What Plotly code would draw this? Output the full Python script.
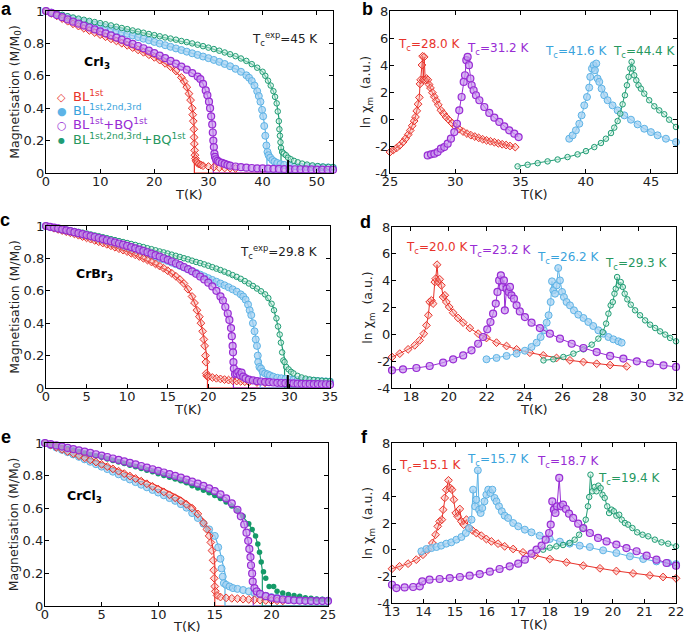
import plotly.graph_objects as go

W, H = 685, 633
FONT = "DejaVu Sans"
RED, BLUE, PURPLE, GREEN = "#e8332b", "#5db3e6", "#982cd4", "#1f9c74"
BLUE_TXT, GREEN_TXT = "#3aa3dc", "#27985f"
RED_FILL = "rgba(245,150,140,0.35)"
BLUE_FILL = "rgba(165,210,242,0.75)"
PURPLE_FILL = "rgba(200,150,238,0.7)"
GREEN_FILL = "rgba(200,238,222,0.5)"
GREEN_DOT = "#159a68"

# ---------------- panel a : CrI3 magnetisation ----------------
a_red_T = [0,1,2,3,4,5,6,7,8,9,10,11,12,13,14,15,16,17,18,19,20,21,22,23,24,25,25.5,26,26.4,26.7,27.0,27.1,27.2,27.3,27.35,27.4,27.45,27.5,27.6,27.7,27.9,28.2,28.6,29,30,31,32,33,34,35]
a_red_M = [1.000,0.985,0.970,0.953,0.937,0.921,0.907,0.893,0.880,0.867,0.854,0.841,0.828,0.815,0.801,0.788,0.774,0.760,0.745,0.730,0.714,0.697,0.677,0.656,0.630,0.590,0.565,0.530,0.490,0.450,0.400,0.360,0.320,0.270,0.220,0.180,0.140,0.110,0.090,0.075,0.065,0.055,0.050,0.045,0.040,0.036,0.033,0.031,0.030,0.028]
a_purple_T = [0,1,2,3,4,5,6,7,8,9,10,11,12,13,14,15,16,17,18,19,20,21,22,23,24,25,26,27,28,28.5,29,29.5,29.8,30.1,30.3,30.5,30.7,30.8,30.9,31.0,31.1,31.2,31.4,31.7,32,32.5,33,33.5,34,35,36,37,38,39,40,41,42,43,44,45,46,47,48,49,50,51,52,53]
a_purple_M = [1.0,0.988,0.975,0.962,0.948,0.934,0.922,0.910,0.898,0.886,0.874,0.862,0.849,0.836,0.823,0.810,0.797,0.784,0.770,0.755,0.740,0.725,0.709,0.692,0.675,0.657,0.638,0.617,0.595,0.580,0.550,0.510,0.480,0.440,0.400,0.350,0.300,0.250,0.200,0.160,0.120,0.100,0.085,0.075,0.068,0.062,0.056,0.050,0.045,0.040,0.036,0.033,0.031,0.029,0.028,0.027,0.026,0.025,0.024,0.024,0.023,0.023,0.022,0.022,0.021,0.021,0.020,0.020]
a_blue_T = [0,1,2,3,4,5,6,7,8,9,10,11,12,13,14,15,16,17,18,19,20,21,22,23,24,25,26,27,28,29,30,31,32,33,34,35,36,37,37.5,38,38.5,39,39.3,39.6,39.9,40.1,40.3,40.5,40.7,40.9,41.1,41.4,41.8,42.2,42.7,43.3,44,45,46,47,48,49,50,51,52,53]
a_blue_M = [1.0,0.99,0.98,0.97,0.96,0.95,0.942,0.934,0.926,0.917,0.908,0.899,0.889,0.879,0.869,0.859,0.849,0.839,0.829,0.819,0.809,0.799,0.789,0.779,0.769,0.759,0.749,0.739,0.729,0.719,0.709,0.698,0.686,0.673,0.659,0.643,0.625,0.603,0.588,0.568,0.54,0.505,0.475,0.44,0.39,0.35,0.29,0.23,0.17,0.13,0.11,0.095,0.08,0.07,0.062,0.055,0.05,0.045,0.042,0.04,0.038,0.037,0.036,0.035,0.034,0.033]
a_green_T = [0,1,2,3,4,5,6,7,8,9,10,11,12,13,14,15,16,17,18,19,20,21,22,23,24,25,26,27,28,29,30,31,32,33,34,35,36,37,38,39,40,40.5,41,41.5,42,42.3,42.6,42.8,43.0,43.1,43.2,43.3,43.4,43.6,43.9,44.3,44.7,45.2,45.8,46.5,47.3,48.2,49.2,50.2,51.2,52.2,53]
a_green_M = [1.0,0.992,0.984,0.976,0.968,0.96,0.953,0.946,0.939,0.932,0.925,0.918,0.911,0.903,0.895,0.888,0.88,0.873,0.866,0.858,0.851,0.844,0.837,0.83,0.823,0.815,0.808,0.8,0.792,0.783,0.774,0.765,0.755,0.744,0.733,0.721,0.707,0.692,0.672,0.65,0.625,0.600,0.570,0.540,0.505,0.47,0.43,0.38,0.32,0.27,0.23,0.19,0.155,0.13,0.12,0.11,0.095,0.085,0.075,0.066,0.058,0.052,0.047,0.043,0.04,0.038,0.036]
a_red_line_T = [0,5,10,15,20,23,25,26,26.6,27.0,27.3,27.4,27.4,53]
a_red_line_M = [1,0.921,0.854,0.788,0.714,0.656,0.59,0.53,0.46,0.40,0.32,0.25,0,0]
a_purple_line_T = [0,5,10,15,20,25,28,29,29.8,30.4,30.8,30.9,30.9,53]
a_purple_line_M = [1,0.934,0.874,0.81,0.74,0.657,0.595,0.55,0.48,0.39,0.28,0.22,0,0]
a_blue_line_T = [0,5,10,15,20,25,30,35,37,38.5,39.6,40.3,40.8,40.8,53]
a_blue_line_M = [1,0.95,0.908,0.859,0.809,0.759,0.709,0.643,0.603,0.54,0.44,0.31,0.18,0,0]
a_green_line_T = [0,5,10,15,20,25,30,35,38,40,41,42,42.6,43.0,43.4,43.4,53]
a_green_line_M = [1,0.96,0.925,0.888,0.851,0.815,0.774,0.721,0.672,0.625,0.57,0.505,0.43,0.34,0.2,0,0]
a_Tc_exp = 44.7

# ---------------- panel b : CrI3 ln chi ----------------
b_red_T = [25.0,25.25,25.5,25.75,26.0,26.2,26.4,26.55,26.7,26.85,26.95,27.05,27.15,27.25,27.3,27.35,27.45,27.5,27.55,27.62,27.7,27.8,27.9,28.0,28.1,28.25,28.4,28.55,28.7,28.9,29.1,29.3,29.5,29.75,30.0,30.3,30.6,30.9,31.2,31.5,31.8,32.1,32.4,32.7,33.0,33.3,33.6,33.9,34.2,34.6]
b_red_X = [-2.45,-2.3,-2.15,-1.95,-1.7,-1.45,-1.15,-0.85,-0.5,-0.15,0.15,0.6,1.1,1.6,2.6,2.9,4.0,4.65,2.9,4.6,2.9,3.0,2.9,2.55,2.3,1.95,1.65,1.35,1.05,0.65,0.4,0.15,-0.05,-0.3,-0.55,-0.75,-0.93,-1.08,-1.2,-1.3,-1.4,-1.5,-1.58,-1.65,-1.72,-1.8,-1.87,-1.93,-2.0,-2.08]
b_purple_T = [27.89,28.14,28.4,28.65,28.9,29.16,29.42,29.67,29.93,30.13,30.31,30.49,30.65,30.75,30.85,30.95,31.05,31.16,31.26,31.41,31.59,31.85,32.23,32.61,33.0,33.38,33.76,34.14,34.53,34.86]
b_purple_X = [-2.7,-2.62,-2.57,-2.45,-2.2,-2.08,-1.83,-1.46,-0.97,-0.35,0.64,1.63,2.75,3.24,4.36,4.6,3.99,3.0,2.5,2.13,1.76,1.39,0.89,0.45,0.1,-0.22,-0.54,-0.84,-1.09,-1.34]
b_blue_T = [38.74,39.0,39.25,39.51,39.69,39.89,40.1,40.27,40.35,40.48,40.61,40.71,40.81,40.91,41.04,41.22,41.42,41.68,42.06,42.45,42.96,43.47,43.98,44.49,45.0,45.51,46.15,46.92]
b_blue_X = [-1.46,-1.21,-0.84,-0.35,0.27,1.01,1.63,2.33,3.12,3.74,3.99,3.61,4.11,3.0,2.75,2.25,1.76,1.39,1.01,0.64,0.27,-0.05,-0.4,-0.72,-0.97,-1.21,-1.46,-1.71]
b_green_T = [34.78,35.55,36.32,37.08,37.85,38.61,39.38,40.02,40.66,41.17,41.55,41.94,42.19,42.45,42.65,42.83,43.01,43.16,43.29,43.42,43.52,43.62,43.72,43.88,44.05,44.23,44.49,44.87,45.26,45.64,46.02,46.4,46.92]
b_green_X = [-3.51,-3.39,-3.27,-3.14,-3.0,-2.82,-2.62,-2.38,-2.08,-1.78,-1.46,-1.04,-0.64,-0.15,0.4,1.09,1.76,2.5,3.12,3.74,4.23,3.74,3.24,2.87,2.5,2.25,1.88,1.39,0.94,0.64,0.35,-0.05,-0.59]
b_Tc = ["28.0", "31.2", "41.6", "44.4"]

# ---------------- panel c : CrBr3 magnetisation ----------------
c_red_T = [0,0.5,1,1.5,2,2.5,3,3.5,4,4.5,5,5.5,6,6.5,7,7.5,8,8.5,9,9.5,10,10.5,11,11.5,12,12.5,13,13.5,14,14.5,15,15.5,16,16.5,17,17.5,18,18.3,18.6,18.9,19.1,19.3,19.45,19.55,19.65,19.7,19.75,19.8,20.0,20.5,21,21.5,22,22.5,23,23.5,24,24.5,25,26,27]
c_red_M = [1.0,0.993,0.986,0.979,0.972,0.965,0.958,0.951,0.943,0.935,0.927,0.919,0.911,0.903,0.895,0.887,0.878,0.869,0.86,0.851,0.842,0.832,0.822,0.812,0.801,0.79,0.778,0.766,0.753,0.739,0.724,0.708,0.69,0.67,0.645,0.61,0.565,0.525,0.48,0.44,0.40,0.35,0.30,0.26,0.20,0.16,0.09,0.075,0.07,0.065,0.06,0.056,0.052,0.049,0.046,0.043,0.041,0.039,0.037,0.034,0.032]
c_purple_T = [0,0.5,1,1.5,2,2.5,3,3.5,4,4.5,5,5.5,6,6.5,7,7.5,8,8.5,9,9.5,10,10.5,11,11.5,12,12.5,13,13.5,14,14.5,15,15.5,16,16.5,17,17.5,18,18.5,19,19.5,20,20.5,21,21.5,21.8,22.1,22.4,22.6,22.8,22.9,23.0,23.05,23.1,23.15,23.3,23.5,23.7,23.9,24.1,24.3,24.6,25,25.5,26,26.5,27,27.5,28,28.5,29,29.5,30,30.5,31,31.5,32,32.5,33,33.5,34,34.5,35]
c_purple_M = [1,0.995,0.99,0.985,0.979,0.973,0.968,0.962,0.956,0.95,0.944,0.938,0.932,0.926,0.919,0.912,0.906,0.899,0.892,0.885,0.877,0.87,0.862,0.854,0.846,0.838,0.829,0.82,0.811,0.801,0.791,0.781,0.77,0.759,0.747,0.734,0.72,0.705,0.688,0.67,0.65,0.627,0.60,0.565,0.54,0.50,0.46,0.42,0.37,0.32,0.26,0.22,0.16,0.12,0.085,0.09,0.10,0.08,0.095,0.07,0.06,0.052,0.047,0.043,0.04,0.038,0.036,0.034,0.032,0.031,0.03,0.029,0.028,0.027,0.026,0.025,0.025,0.024,0.024,0.023,0.023,0.022]
c_blue_T = [0,0.5,1,1.5,2,2.5,3,3.5,4,4.5,5,5.5,6,6.5,7,7.5,8,8.5,9,9.5,10,10.5,11,11.5,12,12.5,13,13.5,14,14.5,15,15.5,16,16.5,17,17.5,18,18.5,19,19.5,20,20.5,21,21.5,22,22.5,23,23.5,24,24.3,24.6,24.9,25.1,25.3,25.5,25.7,25.85,26.0,26.1,26.15,26.3,26.5,26.7,27,27.3,27.6,28,28.5,29,29.5,30,30.5,31,31.5,32,32.5,33,33.5,34,34.5,35]
c_blue_M = [1,0.994,0.988,0.982,0.976,0.97,0.964,0.958,0.952,0.946,0.94,0.934,0.927,0.92,0.913,0.906,0.899,0.892,0.885,0.877,0.869,0.861,0.853,0.845,0.837,0.829,0.82,0.811,0.802,0.793,0.784,0.774,0.764,0.754,0.744,0.733,0.722,0.711,0.70,0.689,0.678,0.667,0.656,0.645,0.634,0.622,0.609,0.595,0.578,0.565,0.545,0.515,0.48,0.45,0.40,0.35,0.30,0.26,0.20,0.16,0.13,0.12,0.10,0.09,0.085,0.078,0.07,0.063,0.06,0.056,0.053,0.051,0.049,0.047,0.046,0.045,0.044,0.043,0.042,0.041,0.04]
c_green_T = [0,0.5,1,1.5,2,2.5,3,3.5,4,4.5,5,5.5,6,6.5,7,7.5,8,8.5,9,9.5,10,10.5,11,11.5,12,12.5,13,13.5,14,14.5,15,15.5,16,16.5,17,17.5,18,18.5,19,19.5,20,20.5,21,21.5,22,22.5,23,23.5,24,24.5,25,25.5,26,26.5,27,27.4,27.8,28.1,28.4,28.6,28.8,28.95,29.1,29.25,29.4,29.6,29.9,30.2,30.5,31,31.5,32,32.5,33,33.5,34,34.5,35]
c_green_M = [1,0.996,0.992,0.988,0.984,0.979,0.974,0.969,0.964,0.959,0.954,0.948,0.942,0.937,0.931,0.925,0.919,0.913,0.907,0.901,0.895,0.889,0.883,0.876,0.870,0.863,0.857,0.850,0.843,0.837,0.830,0.823,0.816,0.809,0.801,0.794,0.786,0.778,0.771,0.763,0.755,0.746,0.737,0.728,0.718,0.708,0.697,0.686,0.674,0.660,0.645,0.630,0.614,0.597,0.578,0.555,0.52,0.48,0.43,0.38,0.33,0.28,0.22,0.17,0.16,0.13,0.115,0.10,0.09,0.075,0.065,0.058,0.053,0.05,0.047,0.045,0.043,0.042]
c_red_line_T = [0,5,10,15,17,18,18.8,19.4,19.8,19.9,19.9,35]
c_red_line_M = [1,0.927,0.842,0.724,0.645,0.565,0.46,0.33,0.2,0.14,0,0]
c_purple_line_T = [0,5,10,15,18,20,21,22,22.6,23.0,23.1,23.1,35]
c_purple_line_M = [1,0.944,0.877,0.791,0.72,0.65,0.60,0.51,0.42,0.29,0.2,0,0]
c_blue_line_T = [0,5,10,15,20,23,24,24.9,25.5,26.0,26.4,26.4,35]
c_blue_line_M = [1,0.94,0.869,0.784,0.678,0.609,0.578,0.515,0.40,0.27,0.17,0,0]
c_green_line_T = [0,5,10,15,20,25,27,28,28.6,29.1,29.4,29.4,35]
c_green_line_M = [1,0.954,0.895,0.83,0.755,0.645,0.578,0.50,0.38,0.25,0.18,0,0]
c_Tc_exp = 29.8

# ---------------- panel d : CrBr3 ln chi ----------------
d_red_T = [17.0,17.41,17.85,18.2,18.46,18.68,18.82,18.92,18.99,19.08,19.17,19.26,19.31,19.38,19.45,19.52,19.61,19.7,19.79,19.87,20.02,20.23,20.49,20.76,21.11,21.55,21.99,22.52,23.05,23.58,24.28,24.99,25.69,26.4,27.11,27.81,28.52,29.4]
d_red_X = [-1.69,-1.44,-1.12,-0.82,-0.45,0.05,0.67,1.42,2.41,2.53,2.29,3.9,4.15,5.19,3.9,4.1,3.65,2.78,2.91,2.41,2.04,1.61,1.22,0.87,0.47,0.05,-0.27,-0.62,-0.87,-1.12,-1.37,-1.57,-1.76,-1.94,-2.06,-2.19,-2.29,-2.39]
d_purple_T = [17.0,17.58,18.29,18.99,19.7,20.23,20.76,21.2,21.55,21.81,22.03,22.2,22.34,22.48,22.57,22.66,22.75,22.84,22.91,22.96,23.05,23.16,23.23,23.31,23.44,23.58,23.75,24.02,24.37,24.81,25.34,25.87,26.49,27.11,27.81,28.52,29.22,29.93,30.63,31.34,32.0]
d_purple_X = [-2.68,-2.61,-2.51,-2.36,-2.11,-1.86,-1.57,-1.19,-0.7,-0.2,0.37,0.92,1.54,2.29,3.16,4.02,4.4,3.53,4.02,1.79,3.4,3.16,3.53,2.91,2.66,2.16,1.71,1.29,0.87,0.47,0.05,-0.32,-0.7,-1.02,-1.32,-1.61,-1.81,-2.01,-2.16,-2.31,-2.43]
d_blue_T = [21.99,22.52,23.05,23.58,24.02,24.37,24.64,24.85,25.02,25.17,25.27,25.38,25.45,25.52,25.61,25.7,25.78,25.87,25.98,26.08,26.22,26.4,26.61,26.84,27.11,27.37,27.63,27.9,28.16,28.43,28.69,28.96,29.13]
d_blue_X = [-1.86,-1.76,-1.61,-1.44,-1.22,-0.94,-0.62,-0.2,0.3,0.87,1.42,2.41,3.95,3.28,3.03,3.65,4.94,4.02,3.16,2.78,2.41,2.16,1.79,1.47,1.22,0.92,0.62,0.3,0.05,-0.2,-0.37,-0.52,-0.62]
d_green_T = [25.0,25.52,26.05,26.58,27.11,27.55,27.9,28.13,28.31,28.43,28.55,28.66,28.75,28.82,28.89,28.98,29.08,29.19,29.29,29.43,29.61,29.84,30.1,30.37,30.63,30.9,31.16,31.43,31.69,32.0]
d_green_X = [-1.94,-1.86,-1.69,-1.44,-1.12,-0.77,-0.32,0.17,0.8,1.54,2.16,2.41,3.03,3.4,4.27,3.65,3.9,3.53,3.03,2.61,2.21,1.79,1.42,1.04,0.72,0.47,0.22,-0.02,-0.27,-0.52]
d_Tc = ["20.0", "23.2", "26.2", "29.3"]

# ---------------- panel e : CrCl3 magnetisation ----------------
e_red_T = [0,0.5,1,1.5,2,2.5,3,3.5,4,4.5,5,5.5,6,6.5,7,7.5,8,8.5,9,9.5,10,10.5,11,11.5,12,12.5,13,13.5,14,14.3,14.5,14.65,14.75,14.85,14.9,14.95,15.0,15.05,15.2,15.5,16,16.5,17,17.5,18,18.5,19,19.5,20,20.5,21]
e_red_M = [1,0.987,0.974,0.961,0.948,0.935,0.922,0.909,0.896,0.883,0.869,0.855,0.841,0.827,0.812,0.797,0.782,0.766,0.75,0.734,0.717,0.70,0.682,0.664,0.645,0.624,0.60,0.565,0.51,0.47,0.43,0.39,0.34,0.28,0.22,0.17,0.12,0.09,0.065,0.055,0.05,0.047,0.045,0.042,0.04,0.038,0.036,0.034,0.033,0.032,0.031]
e_blue_T = [0,0.5,1,1.5,2,2.5,3,3.5,4,4.5,5,5.5,6,6.5,7,7.5,8,8.5,9,9.5,10,10.5,11,11.5,12,12.5,13,13.5,14,14.5,15,15.3,15.5,15.6,15.7,15.8,16,16.3,16.6,17,17.5,18,18.5,19,19.5,20,20.5,21,21.5,22,22.5,23,23.5,24,24.5,25]
e_blue_M = [1,0.986,0.972,0.958,0.944,0.93,0.915,0.9,0.885,0.87,0.855,0.84,0.824,0.808,0.792,0.776,0.76,0.744,0.728,0.712,0.696,0.679,0.662,0.645,0.625,0.603,0.57,0.54,0.505,0.47,0.43,0.36,0.29,0.23,0.18,0.14,0.13,0.12,0.11,0.105,0.098,0.09,0.08,0.07,0.063,0.055,0.05,0.046,0.043,0.04,0.038,0.036,0.035,0.034,0.033,0.032]
e_purple_T = [0,0.5,1,1.5,2,2.5,3,3.5,4,4.5,5,5.5,6,6.5,7,7.5,8,8.5,9,9.5,10,10.5,11,11.5,12,12.5,13,13.5,14,14.5,15,15.5,16,16.5,17,17.3,17.6,17.8,17.95,18.05,18.15,18.2,18.3,18.35,18.5,18.7,19,19.5,20,20.5,21,21.5,22,22.5,23,23.5,24,24.5,25]
e_purple_M = [1.0,0.993,0.985,0.978,0.970,0.963,0.955,0.947,0.939,0.931,0.923,0.914,0.905,0.896,0.887,0.878,0.869,0.859,0.849,0.839,0.829,0.819,0.809,0.798,0.787,0.775,0.763,0.751,0.737,0.722,0.705,0.685,0.66,0.63,0.59,0.55,0.50,0.45,0.40,0.35,0.30,0.25,0.20,0.15,0.11,0.09,0.075,0.06,0.05,0.045,0.04,0.037,0.035,0.033,0.032,0.031,0.03,0.03,0.03]
e_green_T = [0,0.5,1,1.5,2,2.5,3,3.5,4,4.5,5,5.5,6,6.5,7,7.5,8,8.5,9,9.5,10,10.5,11,11.5,12,12.5,13,13.5,14,14.5,15,15.5,16,16.5,17,17.5,18,18.3,18.6,18.8,18.95,19.1,19.3,19.5,19.8,20.2,20.5,21,21.5,22,22.5,23,23.5,24,24.5,25]
e_green_M = [1.0,0.991,0.983,0.974,0.966,0.957,0.948,0.939,0.930,0.921,0.912,0.902,0.893,0.883,0.874,0.864,0.854,0.844,0.833,0.823,0.812,0.801,0.79,0.779,0.768,0.756,0.738,0.724,0.71,0.695,0.678,0.659,0.638,0.613,0.585,0.55,0.505,0.47,0.43,0.38,0.33,0.27,0.21,0.17,0.12,0.12,0.09,0.08,0.07,0.065,0.06,0.05,0.047,0.043,0.041,0.04]
e_red_line_T = [0,5,10,12,13,14,14.6,14.9,15.0,15.0,25]
e_red_line_M = [1,0.88,0.735,0.665,0.615,0.53,0.44,0.33,0.25,0,0]
e_blue_line_T = [0,5,10,12,13,14,15,15.4,15.9,15.9,25]
e_blue_line_M = [1,0.855,0.696,0.625,0.57,0.505,0.43,0.35,0.2,0,0]
e_purple_line_T = [0,5,10,13,15,16,17,17.6,18.1,18.4,18.4,25]
e_purple_line_M = [1,0.926,0.832,0.766,0.708,0.663,0.594,0.505,0.35,0.2,0,0]
e_green_line_T = [0,5,10,14,16,17,18,18.6,19.0,19.2,19.2,25]
e_green_line_M = [1,0.912,0.812,0.71,0.638,0.585,0.505,0.43,0.31,0.22,0,0]

# ---------------- panel f : CrCl3 ln chi ----------------
f_red_T = [13.0,13.24,13.51,13.77,13.98,14.14,14.28,14.38,14.45,14.51,14.58,14.62,14.67,14.72,14.79,14.85,14.9,14.96,15.02,15.08,15.15,15.2,15.27,15.36,15.44,15.55,15.67,15.83,15.99,16.15,16.36,16.57,16.84,17.15,17.52,18.0,18.53,19.06,19.59,20.11,20.64,21.17,21.59,22.0]
f_red_X = [-1.43,-1.25,-1.05,-0.75,-0.38,0.0,0.5,1.12,1.75,2.12,2.25,3.0,3.88,4.5,5.2,4.62,4.5,3.75,2.75,2.5,3.05,2.12,1.88,2.25,1.62,1.45,1.25,1.05,0.8,0.62,0.45,0.25,0.05,-0.2,-0.43,-0.7,-0.95,-1.2,-1.4,-1.6,-1.78,-1.93,-2.05,-2.15]
f_blue_T = [13.93,14.09,14.25,14.41,14.56,14.72,14.88,15.04,15.2,15.34,15.44,15.52,15.57,15.63,15.67,15.72,15.76,15.81,15.86,15.93,15.99,16.05,16.12,16.18,16.25,16.31,16.39,16.48,16.57,16.68,16.84,17.0,17.21,17.42,17.68,18.0,18.32,18.63,18.95,19.27,19.69,20.11,20.54,20.96,21.38,21.75,22.0]
f_blue_X = [-0.12,0.05,0.12,0.2,0.3,0.45,0.55,0.75,0.95,1.25,1.62,2.25,4.5,3.25,3.75,5.95,3.0,2.75,3.12,3.62,4.12,4.5,4.25,4.5,3.88,3.62,3.25,2.88,2.55,2.38,2.0,1.75,1.5,1.3,1.05,0.8,0.6,0.45,0.3,0.2,-0.05,-0.25,-0.5,-0.7,-0.88,-1.0,-1.08]
f_purple_T = [13.0,13.14,13.4,13.67,13.88,13.96,14.19,14.51,14.83,15.15,15.46,15.78,16.1,16.41,16.73,17.0,17.21,17.42,17.58,17.74,17.87,17.98,18.03,18.08,18.13,18.18,18.23,18.3,18.35,18.42,18.51,18.61,18.74,18.9,19.06,19.27,19.53,19.8,20.11,20.43,20.75,21.07,21.38,21.7,22.0]
f_purple_X = [-2.63,-2.88,-2.83,-2.8,-2.75,-2.38,-2.25,-2.2,-2.13,-2.05,-1.95,-1.83,-1.65,-1.45,-1.25,-1.05,-0.75,-0.3,0.0,0.3,0.75,1.25,1.88,3.62,3.0,2.75,3.25,5.38,3.25,3.38,3.05,2.7,2.38,1.95,1.62,1.25,0.88,0.62,0.38,0.12,-0.12,-0.45,-0.75,-1.0,-1.2]
f_green_T = [17.79,18.0,18.21,18.42,18.63,18.79,18.93,19.06,19.14,19.21,19.25,19.29,19.35,19.42,19.48,19.54,19.61,19.67,19.74,19.82,19.88,19.96,20.03,20.11,20.2,20.28,20.38,20.48,20.62,20.77,20.94,21.12,21.33,21.54,21.75,22.0]
f_green_X = [0.0,0.15,0.25,0.35,0.5,0.75,1.12,1.62,2.25,3.25,3.95,5.62,4.38,4.7,4.38,4.8,4.62,4.12,3.88,3.25,2.75,3.0,2.88,2.55,2.62,2.25,2.0,1.88,1.62,1.3,1.12,1.0,0.75,0.55,0.45,0.25]
f_Tc = ["15.1", "15.7", "18.7", "19.4"]

legend_names = ["BL<sup>1st</sup>", "BL<sup>1st,2nd,3rd</sup>",
                "BL<sup>1st</sup>+BQ<sup>1st</sup>", "BL<sup>1st,2nd,3rd</sup>+BQ<sup>1st</sup>"]

# ---------------- figure ----------------
def px_x(x): return x / W
def px_y(y): return 1 - y / H

fig = go.Figure()

STY = {
    "red": dict(symbol="diamond", size=6, color=RED_FILL, line=dict(color=RED, width=1)),
    "blue": dict(symbol="circle", size=7, color=BLUE_FILL, line=dict(color=BLUE, width=1)),
    "purple": dict(symbol="circle", size=7, color=PURPLE_FILL, line=dict(color=PURPLE, width=1.2)),
    "green": dict(symbol="circle", size=5.5, color=GREEN_FILL, line=dict(color=GREEN, width=1)),
    "greendot": dict(symbol="circle", size=5.5, color=GREEN_DOT, line=dict(color=GREEN_DOT, width=0)),
}
LC = {"red": RED, "blue": BLUE, "purple": PURPLE, "green": GREEN, "greendot": GREEN}

def add_line(T, M, key, ax):
    fig.add_trace(go.Scatter(x=T, y=M, mode="lines", line=dict(color=LC[key], width=1.2),
                             xaxis="x" + ax, yaxis="y" + ax, showlegend=False, hoverinfo="skip"))

def add_markers(T, M, key, ax):
    fig.add_trace(go.Scatter(x=T, y=M, mode="markers", marker=STY[key], cliponaxis=False,
                             xaxis="x" + ax, yaxis="y" + ax, showlegend=False))

def add_chi(T, X, key, ax):
    fig.add_trace(go.Scatter(x=T, y=X, mode="lines+markers", marker=STY[key], cliponaxis=False,
                             line=dict(color=LC[key], width=1),
                             xaxis="x" + ax, yaxis="y" + ax, showlegend=False))

# panel a
add_line(a_red_line_T, a_red_line_M, "red", "")
add_line(a_purple_line_T, a_purple_line_M, "purple", "")
add_line(a_blue_line_T, a_blue_line_M, "blue", "")
add_line(a_green_line_T, a_green_line_M, "green", "")
add_markers(a_blue_T, a_blue_M, "blue", "")
add_markers(a_green_T, a_green_M, "green", "")
add_markers(a_red_T, a_red_M, "red", "")
add_markers(a_purple_T, a_purple_M, "purple", "")

# panel b
add_chi(b_red_T, b_red_X, "red", "2")
add_chi(b_blue_T, b_blue_X, "blue", "2")
add_chi(b_green_T, b_green_X, "green", "2")
add_chi(b_purple_T, b_purple_X, "purple", "2")

# panel c
add_line(c_red_line_T, c_red_line_M, "red", "3")
add_line(c_purple_line_T, c_purple_line_M, "purple", "3")
add_line(c_blue_line_T, c_blue_line_M, "blue", "3")
add_line(c_green_line_T, c_green_line_M, "green", "3")
add_markers(c_blue_T, c_blue_M, "blue", "3")
add_markers(c_green_T, c_green_M, "green", "3")
add_markers(c_red_T, c_red_M, "red", "3")
add_markers(c_purple_T, c_purple_M, "purple", "3")

# panel d
add_chi(d_red_T, d_red_X, "red", "4")
add_chi(d_blue_T, d_blue_X, "blue", "4")
add_chi(d_green_T, d_green_X, "green", "4")
add_chi(d_purple_T, d_purple_X, "purple", "4")

# panel e
add_line(e_red_line_T, e_red_line_M, "red", "5")
add_line(e_purple_line_T, e_purple_line_M, "purple", "5")
add_line(e_blue_line_T, e_blue_line_M, "blue", "5")
add_line(e_green_line_T, e_green_line_M, "green", "5")
add_markers(e_blue_T, e_blue_M, "blue", "5")
add_markers(e_green_T, e_green_M, "greendot", "5")
add_markers(e_red_T, e_red_M, "red", "5")
add_markers(e_purple_T, e_purple_M, "purple", "5")

# panel f
add_chi(f_red_T, f_red_X, "red", "6")
add_chi(f_blue_T, f_blue_X, "blue", "6")
add_chi(f_green_T, f_green_X, "green", "6")
add_chi(f_purple_T, f_purple_X, "purple", "6")

TICKF = dict(family=FONT, size=13, color="#222")
TITLEF = dict(family=FONT, size=12.5, color="#222")

def axis(domain, rng, tickvals, ticktext, anchor, title=None, standoff=1, lso=0):
    d = dict(domain=domain, range=rng, tickvals=tickvals, ticktext=ticktext, anchor=anchor,
             showline=True, linecolor="black", linewidth=1.2, mirror="ticks",
             ticks="inside", ticklen=4, tickwidth=1, tickcolor="black",
             showgrid=False, zeroline=False, tickfont=TICKF, automargin=False,
             ticklabelstandoff=lso)
    if title:
        d["title"] = dict(text=title, font=TITLEF, standoff=standoff)
    return d

M_TV = [0, 0.2, 0.4, 0.6, 0.8, 1]
M_TT = ["0", "0.2", "0.4", "0.6", "0.8", "1"]
X_TV = [-4, -2, 0, 2, 4, 6, 8]
X_TT = ["-4", "-2", "0", "2", "4", "6", "8"]
MTITLE = "Magnetisation (M/M<sub>0</sub>)"
CTITLE = "ln χ<sub>m</sub>  (a.u.)"
TTITLE = "T(K)"

dom = {
    "a": ([px_x(46), px_x(333)], [px_y(173), px_y(11)]),
    "b": ([px_x(390), px_x(677)], [px_y(173), px_y(11)]),
    "c": ([px_x(46), px_x(330)], [px_y(388), px_y(226)]),
    "d": ([px_x(392), px_x(676)], [px_y(388), px_y(227)]),
    "e": ([px_x(45), px_x(328)], [px_y(606), px_y(443)]),
    "f": ([px_x(392), px_x(676)], [px_y(603), px_y(443)]),
}
XL = -4
YL = -2

fig.update_layout(
    width=W, height=H, margin=dict(l=0, r=0, t=0, b=0),
    paper_bgcolor="white", plot_bgcolor="white", showlegend=False,
    font=dict(family=FONT, size=13, color="#222"),
    xaxis=axis(dom["a"][0], [0, 53], [0, 10, 20, 30, 40, 50], ["0", "10", "20", "30", "40", "50"], "y", lso=XL),
    yaxis=axis(dom["a"][1], [0, 1], M_TV, M_TT, "x", MTITLE, lso=YL),
    xaxis2=axis(dom["b"][0], [25, 47], [25, 30, 35, 40, 45], ["25", "30", "35", "40", "45"], "y2", lso=XL),
    yaxis2=axis(dom["b"][1], [-4, 8], X_TV, X_TT, "x2", CTITLE, lso=YL),
    xaxis3=axis(dom["c"][0], [0, 35], [0, 5, 10, 15, 20, 25, 30, 35], ["0", "5", "10", "15", "20", "25", "30", "35"], "y3", lso=XL),
    yaxis3=axis(dom["c"][1], [0, 1], M_TV, M_TT, "x3", MTITLE, lso=YL),
    xaxis4=axis(dom["d"][0], [17, 32], [18, 20, 22, 24, 26, 28, 30, 32], ["18", "20", "22", "24", "26", "28", "30", "32"], "y4", lso=XL),
    yaxis4=axis(dom["d"][1], [-4, 8], X_TV, X_TT, "x4", CTITLE, lso=YL),
    xaxis5=axis(dom["e"][0], [0, 25], [0, 5, 10, 15, 20, 25], ["0", "5", "10", "15", "20", "25"], "y5", lso=XL),
    yaxis5=axis(dom["e"][1], [0, 1], M_TV, M_TT, "x5", MTITLE, lso=YL),
    xaxis6=axis(dom["f"][0], [13, 22], [13, 14, 15, 16, 17, 18, 19, 20, 21, 22], ["13", "14", "15", "16", "17", "18", "19", "20", "21", "22"], "y6", lso=XL),
    yaxis6=axis(dom["f"][1], [-4, 8], X_TV, X_TT, "x6", CTITLE, lso=YL),
)

fig.add_shape(type="line", xref="x", yref="y", x0=a_Tc_exp, x1=a_Tc_exp, y0=0, y1=0.08,
              line=dict(color="black", width=2))
fig.add_shape(type="line", xref="x3", yref="y3", x0=c_Tc_exp, x1=c_Tc_exp, y0=0, y1=0.08,
              line=dict(color="black", width=2))

ann = []
for lab, (x, y) in {"a": (6, 9), "b": (367, 9), "c": (5, 220), "d": (366, 222), "e": (6, 437), "f": (364, 437)}.items():
    ann.append(dict(text="<b>%s</b>" % lab, x=px_x(x), y=px_y(y), xref="paper", yref="paper",
                    xanchor="center", yanchor="middle", showarrow=False,
                    font=dict(family="Liberation Sans", size=18, color="black")))

for (x, y) in [(189.5, 195), (533.5, 195), (188, 409), (534, 409), (186.5, 626), (534, 624)]:
    ann.append(dict(text=TTITLE, x=px_x(x), y=px_y(y), xref="paper", yref="paper",
                    xanchor="center", yanchor="middle", showarrow=False, font=dict(family=FONT, size=13, color="#222")))

BLK = dict(family=FONT, size=12.5, color="black")
ann += [
    dict(text="<b>CrI<sub>3</sub></b>", x=9.5, y=0.68, xref="x", yref="y", showarrow=False, font=BLK),
    dict(text="T<sub>c</sub><sup>exp</sup>=45 K", x=44.1, y=0.83, xref="x", yref="y", showarrow=False,
         font=dict(family=FONT, size=12, color="#222")),
    dict(text="<b>CrBr<sub>3</sub></b>", x=6.0, y=0.70, xref="x3", yref="y3", showarrow=False, font=BLK),
    dict(text="T<sub>c</sub><sup>exp</sup>=29.8 K", x=28.7, y=0.84, xref="x3", yref="y3", showarrow=False,
         font=dict(family=FONT, size=12, color="#222")),
    dict(text="<b>CrCl<sub>3</sub></b>", x=3.45, y=0.67, xref="x5", yref="y5", showarrow=False, font=BLK),
]

tc_pos = {
    "2": (b_Tc, [(28.0, 5.47), (33.3, 5.22), (39.3, 4.98), (44.5, 4.98)], [RED, PURPLE, BLUE_TXT, GREEN_TXT]),
    "4": (d_Tc, [(19.38, 6.46), (22.73, 6.21), (26.31, 5.71), (29.91, 5.27)], [RED, PURPLE, BLUE_TXT, GREEN_TXT]),
    "6": (f_Tc, [(14.22, 6.25), (16.38, 6.75), (18.6, 6.55), (20.53, 5.33)], [RED, BLUE_TXT, PURPLE, GREEN_TXT]),
}
for axn, (vals, poss, cols) in tc_pos.items():
    for v, (x, y), c in zip(vals, poss, cols):
        ann.append(dict(text="T<sub>c</sub>=%s K" % v, x=x, y=y, xref="x" + axn, yref="y" + axn,
                        showarrow=False, font=dict(family=FONT, size=12, color=c)))

leg_glyph = [("◇", RED, 11), ("●", BLUE, 11), ("○", PURPLE, 11), ("●", GREEN, 8)]
leg_col = [RED, BLUE_TXT, PURPLE, GREEN_TXT]
leg_y = [97.7, 111.7, 125.7, 141]
for (g, gc, gs), name, tc, yy in zip(leg_glyph, legend_names, leg_col, leg_y):
    ann.append(dict(text=g, x=px_x(61.7), y=px_y(yy), xref="paper", yref="paper", showarrow=False,
                    xanchor="center", yanchor="middle", font=dict(family=FONT, size=gs, color=gc)))
    ann.append(dict(text=name, x=px_x(71), y=px_y(yy - 2), xref="paper", yref="paper", showarrow=False,
                    xanchor="left", yanchor="middle", font=dict(family=FONT, size=13, color=tc)))

fig.update_layout(annotations=ann)
fig.write_html("out.html", config={"displayModeBar": False},
               post_script="document.body.style.margin='0';document.body.style.overflow='hidden';")
